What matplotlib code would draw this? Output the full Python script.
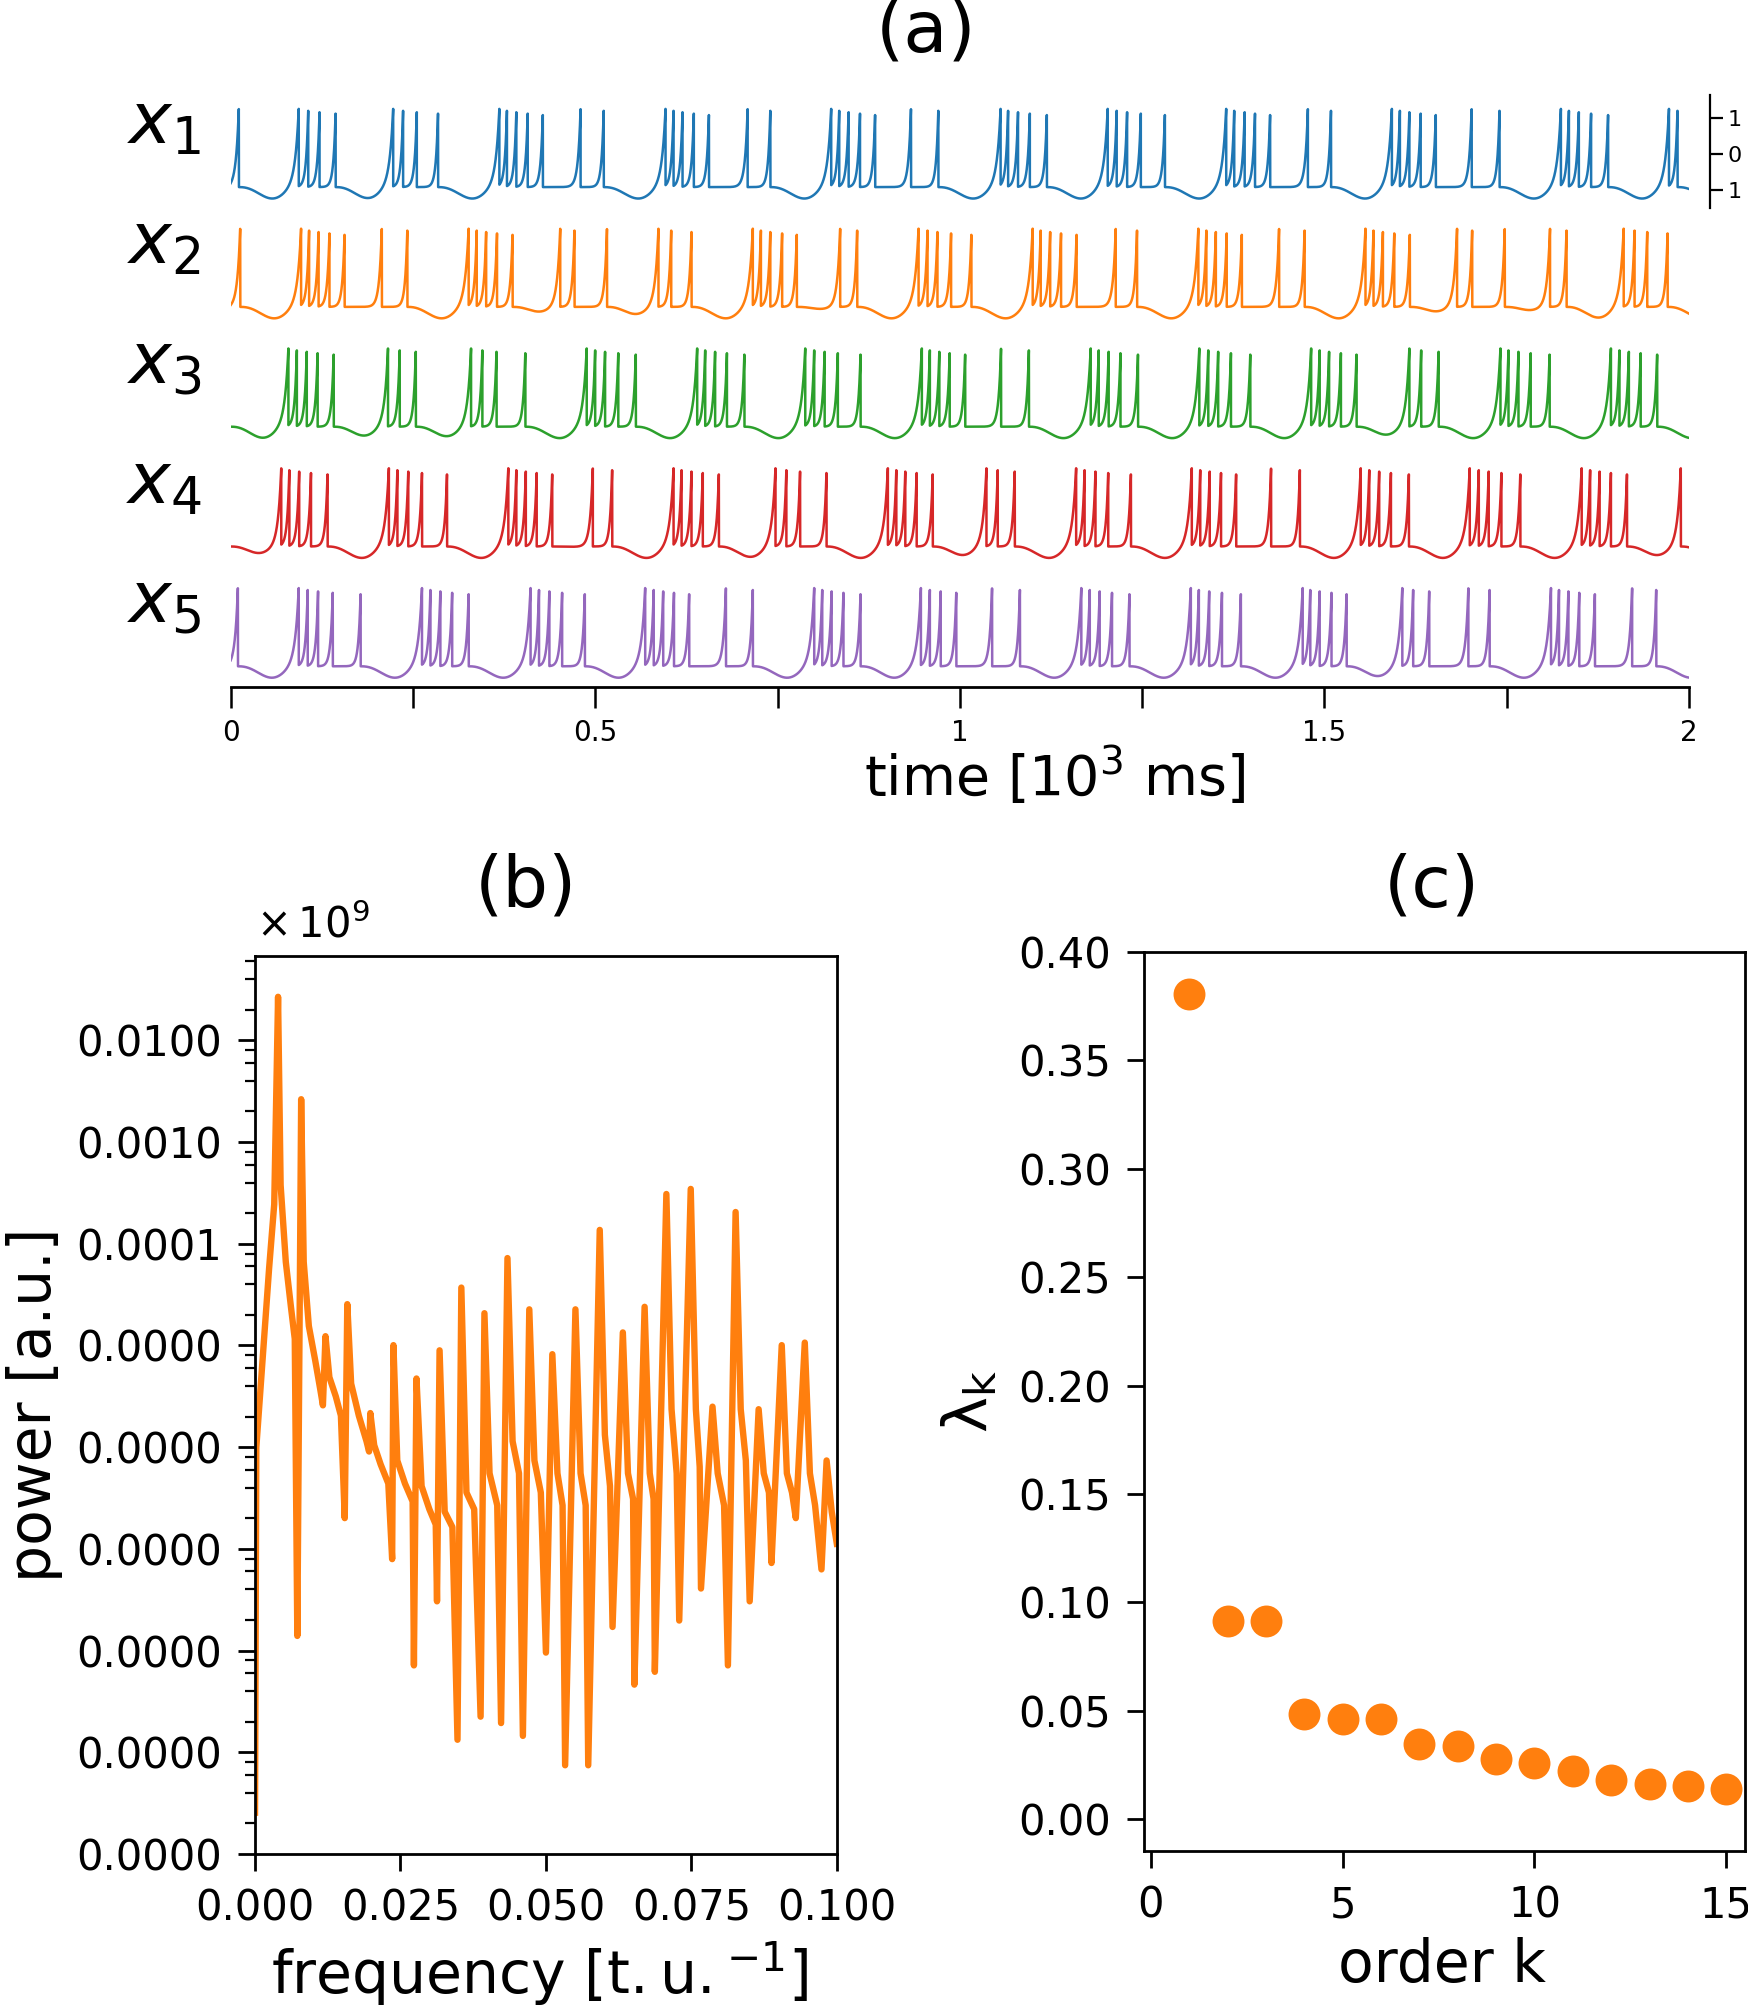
import numpy as np
import matplotlib
matplotlib.use('Agg')
import matplotlib.pyplot as plt
from matplotlib.ticker import LogLocator, FixedLocator, NullFormatter, FormatStrFormatter

plt.rcParams['font.family'] = ['DejaVu Sans']
plt.rcParams['mathtext.fontset'] = 'dejavusans'

# ---------------- data: panel (a) spike times [ms] ----------------
spikes_x1 = [11.2, 93.4, 106.4, 121.9, 143.9, 222.9, 236.5, 255.3, 284.4,
             368.5, 378.9, 391.8, 407.4, 428.1, 479.9, 511.6,
             596.4, 607.4, 619.7, 635.2, 655.9, 709.0, 740.1,
             823.6, 834.6, 847.5, 863.1, 883.8, 933.0, 970.5,
             1055.9, 1066.2, 1079.8, 1096.0, 1119.3, 1202.8, 1215.1, 1229.4, 1248.2, 1281.2,
             1365.3, 1376.3, 1390.6, 1404.8, 1425.5, 1477.3, 1509.0,
             1592.5, 1603.5, 1616.5, 1632.0, 1652.7, 1701.9, 1740.1,
             1824.3, 1835.3, 1848.9, 1865.7, 1889.0, 1972.5, 1984.2]
spikes_x2 = [13.1, 96.6, 107.6, 120.6, 135.5, 156.2, 207.3, 242.3,
             326.4, 337.5, 350.4, 365.3, 386.6, 452.0, 471.5, 516.1,
             586.7, 604.2, 632.0, 716.1, 727.2, 740.1, 756.3, 776.4, 835.9, 859.2,
             943.4, 955.7, 969.3, 988.0, 1015.8,
             1099.9, 1110.9, 1123.9, 1138.8, 1160.1, 1213.8, 1243.0,
             1327.1, 1338.1, 1351.1, 1366.0, 1386.7, 1437.8, 1472.8,
             1556.3, 1567.3, 1580.2, 1595.8, 1617.1, 1681.9, 1702.6, 1747.3, 1809.4, 1832.0,
             1910.4, 1925.3, 1942.7, 1970.6]
spikes_x3 = [79.2, 90.8, 104.4, 119.3, 141.3, 215.8, 231.9, 253.9,
             329.7, 345.2, 364.6, 404.1, 488.3, 499.9, 513.5, 531.6, 555.6,
             639.8, 650.8, 664.4, 680.6, 704.5, 788.0, 800.3, 814.6, 832.7, 863.8,
             947.9, 958.9, 971.9, 986.1, 1007.3, 1056.5, 1094.7,
             1179.5, 1190.5, 1204.1, 1220.3, 1244.3, 1328.4, 1340.7, 1354.3, 1371.8, 1398.3,
             1481.8, 1493.5, 1506.4, 1522.6, 1544.0, 1616.5, 1632.7, 1656.6,
             1741.4, 1752.4, 1766.1, 1782.9, 1808.8, 1892.9, 1904.6, 1917.5, 1933.7, 1956.3]
spikes_x4 = [69.4, 80.5, 94.0, 110.2, 132.9, 217.0, 228.7, 243.6, 262.4, 296.7,
             380.8, 391.8, 404.8, 419.7, 441.0, 496.7, 523.2,
             607.4, 618.4, 632.0, 647.5, 669.5, 747.2, 762.1, 780.9, 817.1,
             901.3, 912.9, 925.2, 940.8, 962.8, 1036.5, 1052.0, 1075.3,
             1159.5, 1171.1, 1186.0, 1203.5, 1234.6, 1318.1, 1329.7, 1342.7, 1358.2, 1378.9,
             1426.8, 1466.3, 1549.8, 1561.5, 1575.1, 1591.2, 1615.8,
             1699.3, 1711.7, 1725.3, 1742.7, 1768.6, 1852.8, 1864.4, 1877.4, 1892.9, 1914.9, 1988.7]
spikes_x5 = [9.9, 93.4, 105.7, 119.9, 140.0, 178.2, 262.4, 274.0, 287.6, 303.8, 326.4,
             411.3, 422.9, 437.1, 454.6, 485.7, 568.5, 580.2, 593.2, 608.0, 628.8, 679.2, 716.1,
             800.3, 811.3, 824.2, 840.4, 863.8, 946.6, 958.9, 973.8, 995.1, 1044.2, 1082.4,
             1166.6, 1178.2, 1191.8, 1208.7, 1232.6, 1316.8, 1327.8, 1342.0, 1359.5, 1385.4,
             1470.2, 1480.6, 1493.5, 1509.7, 1530.4, 1606.8, 1621.7, 1643.7, 1697.4, 1726.5,
             1810.7, 1821.7, 1834.6, 1849.5, 1870.9, 1922.0, 1955.0]
trace_spikes = [spikes_x1, spikes_x2, spikes_x3, spikes_x4, spikes_x5]
trace_labels = ['$x_1$', '$x_2$', '$x_3$', '$x_4$', '$x_5$']
trace_colors = ['#1f77b4', '#ff7f0e', '#2ca02c', '#d62728', '#9467bd']
time_ticks = [0, 0.25, 0.5, 0.75, 1.0, 1.25, 1.5, 1.75, 2.0]
time_ticklabels = ['0', '', '0.5', '', '1', '', '1.5', '', '2']
scale_ticks = [-1, 0, 1]
scale_ticklabels = ['1', '0', '1']

# ---------------- data: panel (b) spectrum ----------------
freq = [0.0, 0.00022, 0.00132, 0.00242, 0.0033, 0.00396, 0.0044, 0.00529, 0.00617, 0.00683,
        0.00727, 0.00771, 0.00793, 0.00837, 0.00925, 0.01035, 0.01123, 0.01167, 0.01211, 0.01278,
        0.01388, 0.01476, 0.01542, 0.01586, 0.01652, 0.01784, 0.01916, 0.0196, 0.01982, 0.02048,
        0.02159, 0.02291, 0.02357, 0.02379, 0.02445, 0.02577, 0.02709, 0.02731, 0.02775, 0.02863,
        0.02996, 0.03106, 0.03128, 0.03172, 0.0326, 0.03392, 0.0348, 0.03546, 0.03634, 0.03767,
        0.03877, 0.03943, 0.04031, 0.04163, 0.04229, 0.04339, 0.04427, 0.04537, 0.04604, 0.04714,
        0.04802, 0.04912, 0.05, 0.0511, 0.05198, 0.05286, 0.0533, 0.05507, 0.05595, 0.05683,
        0.05727, 0.05925, 0.06013, 0.06101, 0.06145, 0.06322, 0.0641, 0.06498, 0.0652, 0.06696,
        0.06784, 0.0685, 0.06872, 0.0707, 0.07159, 0.07247, 0.07291, 0.07489, 0.07577, 0.07643,
        0.07665, 0.07863, 0.07952, 0.08062, 0.08128, 0.0826, 0.08348, 0.08436, 0.08502, 0.08656,
        0.08744, 0.08833, 0.08877, 0.09053, 0.09141, 0.09229, 0.09295, 0.09449, 0.09537, 0.09626,
        0.09736, 0.09824, 0.09912, 0.1]
log_power = [-9.594, -6.005, -5.123, -4.242, -3.612, -1.572, -3.423, -4.179, -4.620, -4.935,
             -7.856, -4.368, -2.579, -4.179, -4.809, -5.149, -5.438, -5.589, -4.909, -5.312,
             -5.501, -5.690, -6.698, -4.594, -5.375, -5.690, -5.942, -6.043, -5.665, -5.980,
             -6.169, -6.358, -7.101, -4.997, -6.131, -6.358, -6.534, -8.146, -5.325, -6.383,
             -6.610, -6.761, -7.516, -5.048, -6.635, -6.786, -8.877, -4.431, -6.446, -6.610,
             -8.650, -4.683, -6.257, -6.572, -8.713, -4.141, -5.942, -6.257, -8.839, -4.645,
             -6.131, -6.446, -8.020, -5.086, -6.257, -6.572, -9.128, -4.645, -6.257, -6.572,
             -9.128, -3.864, -5.879, -6.383, -7.768, -4.872, -6.257, -6.509, -8.335, -4.620,
             -6.257, -6.509, -8.209, -3.511, -5.627, -6.257, -7.705, -3.461, -5.627, -6.194,
             -7.390, -5.602, -6.257, -6.572, -8.146, -3.688, -5.627, -6.131, -7.516, -5.627,
             -6.257, -6.446, -7.139, -4.997, -6.257, -6.446, -6.698, -4.972, -6.257, -6.572,
             -7.202, -6.131, -6.635, -6.950]
power_ticks = [1e-10, 1e-9, 1e-8, 1e-7, 1e-6, 1e-5, 1e-4, 1e-3, 1e-2]
freq_ticks = [0.0, 0.025, 0.05, 0.075, 0.1]

# ---------------- data: panel (c) eigenvalues ----------------
order_k = [1, 2, 3, 4, 5, 6, 7, 8, 9, 10, 11, 12, 13, 14, 15]
lambda_k = [0.3806, 0.0916, 0.0916, 0.0485, 0.0461, 0.0461, 0.0349, 0.0337,
            0.0278, 0.0260, 0.0225, 0.0183, 0.0165, 0.0154, 0.0142]
lambda_ticks = [0.0, 0.05, 0.10, 0.15, 0.20, 0.25, 0.30, 0.35, 0.40]
k_ticks = [0, 5, 10, 15]


def waveform(spk, t, A=-0.92, Dmax=0.32):
    s = np.asarray(spk, float)
    t0 = s[0] - 60.0 if s[0] < 40 else 0.0
    edges = np.concatenate([[t0], s, [s[-1] + 85.0]])
    gaps = np.diff(edges)
    heights = []
    k = 0
    for g in gaps[:-1]:
        if g > 40:
            k = 0
        heights.append(max(1.28 - 0.04 * k, 1.12))
        k += 1
    heights.append(1.28)
    heights = np.array(heights)
    idx = np.searchsorted(s, t, side='right')
    tp = edges[idx]
    tn = edges[idx + 1]
    g = tn - tp
    frac = np.clip((t - tp) / g, 0, 1)
    depth = Dmax * np.clip((g - 55.0) / 25.0, 0, 1)
    base = A - depth * np.sin(np.pi * frac ** 1.2) ** 2
    tau = 3.0 + 2.0 * np.clip((g - 40.0) / 40.0, 0, 1)
    rise = (heights[idx] - base) * np.exp(-(tn - t) / tau)
    return base + rise


W, H = 1364.0, 1568.0


def rect(l, t, r, b):
    return [l / W, 1 - b / H, (r - l) / W, (b - t) / H]


fig = plt.figure(figsize=(8.74, 10.045), dpi=200)

t_ms = np.arange(0, 2000.0001, 0.05)
for i in range(5):
    ax = fig.add_axes(rect(180, 74 + 93.5 * i, 1318, 162 + 93.5 * i))
    ax.plot(t_ms / 1000.0, waveform(trace_spikes[i], t_ms), color=trace_colors[i], lw=0.9)
    ax.set_xlim(0, 2)
    ax.set_ylim(-1.49, 1.65)
    for sp in ax.spines.values():
        sp.set_visible(False)
    ax.set_yticks([])
    ax.set_xticks([])
    ax.patch.set_alpha(0)
    fig.text(128 / W, 1 - (97 + 93.5 * i) / H, trace_labels[i], fontsize=26,
             ha='center', va='center')
    if i == 0:
        ax.spines['right'].set_visible(True)
        ax.spines['right'].set_position(('outward', 7.5))
        ax.spines['right'].set_linewidth(0.8)
        ax.yaxis.tick_right()
        ax.set_yticks(scale_ticks)
        ax.set_yticklabels(scale_ticklabels)
        ax.tick_params(axis='y', length=4.5, width=0.8, labelsize=8, pad=2)
    if i == 4:
        ax.spines['bottom'].set_visible(True)
        ax.spines['bottom'].set_linewidth(1.0)
        ax.set_xticks(time_ticks)
        ax.set_xticklabels(time_ticklabels)
        ax.tick_params(axis='x', length=7.5, width=0.9, labelsize=10, pad=4)
        ax.set_xlabel('time [$10^3$ ms]', fontsize=20)
        ax.xaxis.set_label_coords(0.565, -0.52)

fig.text(723 / W, 1 - 25 / H, '(a)', fontsize=26, ha='center', va='center')

# ---------------- panel (b) ----------------
axb = fig.add_axes(rect(199, 746, 653, 1447))
axb.plot(freq, 10.0 ** np.array(log_power), color='#ff7f0e', lw=2.3)
axb.set_yscale('log')
axb.set_xlim(0, 0.1)
axb.set_ylim(1e-10, 10 ** -1.169)
axb.yaxis.set_major_locator(FixedLocator(power_ticks))
axb.yaxis.set_major_formatter(FormatStrFormatter('%.4f'))
axb.yaxis.set_minor_locator(LogLocator(base=10, subs=[2, 4, 6, 8], numticks=30))
axb.yaxis.set_minor_formatter(NullFormatter())
axb.set_xticks(freq_ticks)
axb.xaxis.set_major_formatter(FormatStrFormatter('%.3f'))
axb.tick_params(axis='both', which='major', length=6, width=1.0, labelsize=15, pad=6)
axb.tick_params(axis='y', which='minor', length=3.5, width=0.8)
for sp in axb.spines.values():
    sp.set_linewidth(1.0)
axb.set_ylabel('power [a.u.]', fontsize=21)
axb.yaxis.set_label_coords(-0.33, 0.5)
axb.set_xlabel(r'frequency $[\mathrm{t.u.}^{-1}]$', fontsize=21)
axb.xaxis.set_label_coords(0.49, -0.095)
fig.text(200 / W, 1 - 722 / H, r'$\times\,10^{9}$', fontsize=15, ha='left', va='center')
fig.text(410 / W, 1 - 692 / H, '(b)', fontsize=26, ha='center', va='center')

# ---------------- panel (c) ----------------
axc = fig.add_axes(rect(893, 743, 1362, 1445))
axc.scatter(order_k, lambda_k, s=110, color='#ff7f0e', zorder=3)
axc.set_xlim(-0.17, 15.5)
axc.set_ylim(-0.0148, 0.40)
axc.set_yticks(lambda_ticks)
axc.yaxis.set_major_formatter(FormatStrFormatter('%.2f'))
axc.set_xticks(k_ticks)
axc.tick_params(axis='both', which='major', length=6, width=1.0, labelsize=15, pad=6)
for sp in axc.spines.values():
    sp.set_linewidth(1.0)
axc.set_ylabel(r'$\mathrm{\lambda}_{\mathrm{k}}$', fontsize=22)
axc.yaxis.set_label_coords(-0.24, 0.5)
axc.set_xlabel('order k', fontsize=21)
axc.xaxis.set_label_coords(0.495, -0.095)
fig.text(1117 / W, 1 - 692 / H, '(c)', fontsize=26, ha='center', va='center')

fig.savefig('out.png', dpi=200)
